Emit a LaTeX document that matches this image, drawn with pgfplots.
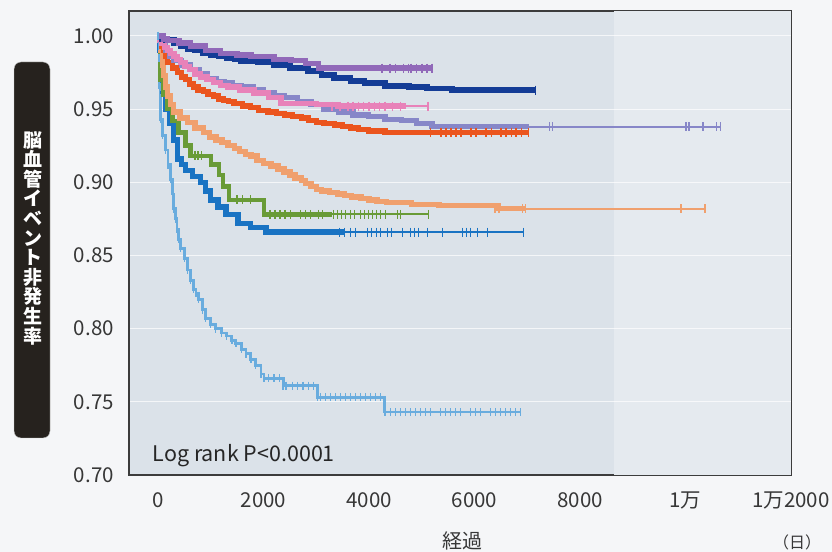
\documentclass[border=0pt]{standalone}
\usepackage{fontspec}
\setmainfont{Noto Sans CJK JP}
\usepackage{pgfplots}
\pgfplotsset{compat=1.18}
\definecolor{pagebg}{RGB}{245,246,248}
\definecolor{plotbg}{RGB}{219,226,233}
\definecolor{plotbgb}{RGB}{229,234,239}
\definecolor{labbox}{RGB}{38,34,30}
\definecolor{ticktext}{RGB}{55,55,55}
\definecolor{axisc}{RGB}{60,60,60}
\definecolor{cpurple}{RGB}{145,105,185}
\definecolor{cnavy}{RGB}{20,60,150}
\definecolor{cpink}{RGB}{232,130,185}
\definecolor{cperi}{RGB}{135,135,200}
\definecolor{cred}{RGB}{235,85,30}
\definecolor{corange}{RGB}{240,160,110}
\definecolor{cgreen}{RGB}{105,155,55}
\definecolor{cblue}{RGB}{25,115,195}
\definecolor{clb}{RGB}{105,172,222}
\pgfplotsset{
  thick/.style={const plot, line width=5.4bp},
  tail/.style={const plot, line width=2bp},
  cens/.style={only marks, mark=|, mark size=4.5bp, mark options={line width=1.5bp}},
}
\begin{document}
\begin{tikzpicture}
\path[use as bounding box, fill=pagebg] (0,0) rectangle (832bp,552bp);
\fill[rounded corners=7bp, fill=labbox, draw=gray!40] (14bp,114bp) rectangle (50bp,490bp);
\node[text=white, align=center, inner sep=0pt, font=\bfseries\fontsize{19bp}{19.6bp}\selectfont] at (33bp,314bp) {脳\\血\\管\\イ\\ベ\\ン\\ト\\非\\発\\生\\率};
\node[anchor=center, inner sep=0pt, font=\fontsize{20bp}{24bp}\selectfont, text=ticktext] at (462bp,11bp) {経過};
\node[anchor=center, inner sep=0pt, font=\fontsize{16bp}{20bp}\selectfont, text=ticktext] at (797bp,10bp) {（日）};
\begin{axis}[
  at={(129bp,77bp)}, anchor=south west, scale only axis,
  width=662bp, height=464bp,
  xmin=-550, xmax=12000, ymin=0.70, ymax=1.017,
  xtick={0,2000,4000,6000,8000,10000,12000},
  xticklabels={0,2000,4000,6000,8000,1万,1万2000},
  scaled x ticks=false, scaled y ticks=false,
  ytick={0.70,0.75,0.80,0.85,0.90,0.95,1.00},
  yticklabels={0.70,0.75,0.80,0.85,0.90,0.95,1.00},
  major tick length=0pt,
  /pgf/number format/assume math mode=true,
  tick label style={font=\fontsize{20.5bp}{24bp}\selectfont, text=ticktext},
  yticklabel style={inner sep=0pt, xshift=-15bp},
  xticklabel style={inner sep=0pt, yshift=-17bp},
  axis line style={draw=axisc, line width=1.2bp},
  axis background/.style={fill=plotbg},
  ymajorgrids, major grid style={white, line width=1bp, opacity=0.7},
]
\fill[plotbgb] (axis cs:8650,0.70) rectangle (axis cs:12000,1.017);
\foreach \yy in {0.75,0.80,0.85,0.90,0.95,1.00} {
  \edef\tmp{\noexpand\draw[white, line width=1bp, opacity=0.7] (axis cs:8650,\yy) -- (axis cs:12000,\yy);}\tmp
}

% light blue
\addplot[const plot, draw=clb, line width=2.8bp, mark=|, mark size=4bp, mark options={line width=1.4bp}] coordinates {
(0,1.000)(10,0.993)(20,0.985)(35,0.965)(48,0.943)(90,0.932)(143,0.922)(190,0.912)(238,0.902)(270,0.892)(295,0.882)(330,0.875)(360,0.868)(395,0.861)(429,0.855)(500,0.848)(560,0.840)(620,0.833)(676,0.827)(720,0.824)(772,0.820)(840,0.813)(905,0.807)(1000,0.803)(1095,0.800)(1200,0.797)(1300,0.795)(1400,0.792)(1476,0.790)(1580,0.786)(1667,0.783)(1760,0.779)(1850,0.775)(1952,0.769)(2010,0.766)(2100,0.766)(2200,0.766)(2300,0.766)(2372,0.761)(2429,0.761)(2550,0.761)(2650,0.761)(2750,0.761)(2850,0.761)(2950,0.761)(3020,0.753)
(3076,0.753)(3171,0.753)(3266,0.753)(3361,0.753)(3456,0.753)(3551,0.753)(3646,0.753)(3741,0.753)(3836,0.753)(3931,0.753)(4026,0.753)(4121,0.753)(4216,0.753)(4296,0.743)
(4311,0.743)(4406,0.743)(4501,0.743)(4596,0.743)(4691,0.743)(4786,0.743)(4881,0.743)(4976,0.743)(5070,0.743)(5165,0.743)(5355,0.743)(5450,0.743)(5545,0.743)(5640,0.743)(5735,0.743)(5925,0.743)(6020,0.743)(6115,0.743)(6305,0.743)(6400,0.743)(6495,0.743)(6590,0.743)(6685,0.743)(6780,0.743)(6874,0.743)};

% blue
\addplot[thick, draw=cblue] coordinates {
(0,1.000)(30,0.990)(60,0.975)(90,0.962)(150,0.950)(220,0.940)(295,0.929)(371,0.916)(450,0.912)(524,0.908)(650,0.904)(810,0.900)(900,0.894)(1000,0.888)(1140,0.883)(1286,0.878)(1514,0.872)(1750,0.869)(2048,0.866)(3550,0.866)};
\addplot[tail, draw=cblue] coordinates {(3550,0.866)(6931,0.866)};
\addplot[cens, draw=cblue] coordinates {
(3437,0.866)(3532,0.866)(3646,0.866)(3741,0.866)(3969,0.866)(4045,0.866)(4140,0.866)(4216,0.866)(4349,0.866)(4425,0.866)(4634,0.866)(4786,0.866)(4862,0.866)(4938,0.866)(5108,0.866)(5393,0.866)(5773,0.866)(5849,0.866)(5925,0.866)(6058,0.866)(6248,0.866)(6931,0.866)};

% green
\addplot[thick, draw=cgreen, line width=4.4bp] coordinates {
(0,1.000)(48,0.970)(100,0.960)(181,0.950)(276,0.942)(390,0.934)(524,0.925)(619,0.918)(905,0.918)(1000,0.912)(1152,0.905)(1229,0.897)(1343,0.888)(2010,0.878)(3300,0.878)};
\addplot[tail, draw=cgreen] coordinates {(3300,0.878)(5127,0.878)};
\addplot[cens, draw=cgreen] coordinates {
(700,0.918)(760,0.918)(820,0.918)(1500,0.888)(1600,0.888)(1750,0.888)(2127,0.878)(2222,0.878)(2317,0.878)(2412,0.878)(2507,0.878)(2697,0.878)(2792,0.878)(2887,0.878)(3038,0.878)(3114,0.878)(3323,0.878)(3399,0.878)(3475,0.878)(3551,0.878)(3646,0.878)(3722,0.878)(3836,0.878)(3912,0.878)(3988,0.878)(4064,0.878)(4140,0.878)(4216,0.878)(4311,0.878)(4539,0.878)(4596,0.878)(5127,0.878)};

% light orange
\addplot[thick, draw=corange] coordinates {
(0,1.000)(48,0.990)(80,0.980)(105,0.973)(140,0.965)(181,0.959)(240,0.953)(295,0.948)(420,0.944)(562,0.941)(700,0.937)(867,0.934)(980,0.931)(1100,0.929)(1210,0.927)(1324,0.925)(1450,0.923)(1550,0.921)(1660,0.919)(1762,0.918)(1880,0.915)(2000,0.913)(2140,0.911)(2276,0.909)(2390,0.907)(2500,0.905)(2600,0.903)(2715,0.901)(2800,0.899)(2900,0.897)(3000,0.895)(3096,0.894)(3250,0.893)(3400,0.892)(3530,0.891)(3667,0.890)(3850,0.889)(4000,0.888)(4150,0.887)(4334,0.886)(4800,0.885)(5325,0.884)(6450,0.882)(6963,0.882)};
\addplot[tail, draw=corange] coordinates {(6963,0.882)(10373,0.882)};
\addplot[cens, draw=corange] coordinates {
(6391,0.882)(6467,0.882)(6906,0.882)(6963,0.882)(9915,0.882)(10373,0.882)};

% red-orange
\addplot[thick, draw=cred] coordinates {
(0,1.000)(25,0.997)(50,0.995)(75,0.993)(105,0.990)(140,0.986)(181,0.982)(270,0.978)(371,0.975)(440,0.972)(520,0.970)(600,0.967)(676,0.965)(760,0.963)(860,0.962)(950,0.960)(1057,0.959)(1150,0.957)(1240,0.956)(1340,0.955)(1438,0.954)(1600,0.952)(1750,0.951)(1900,0.949)(2086,0.948)(2250,0.947)(2400,0.946)(2550,0.945)(2715,0.944)(2850,0.942)(3000,0.941)(3150,0.940)(3343,0.939)(3500,0.938)(3650,0.937)(3800,0.936)(3990,0.935)(4300,0.934)(7039,0.934)};
\addplot[cens, draw=cred] coordinates {
(5170,0.934)(5360,0.934)(5460,0.934)(5550,0.934)(5650,0.934)(5740,0.934)(5930,0.934)(6030,0.934)(6220,0.934)(6320,0.934)(6500,0.934)(6600,0.934)(6700,0.934)(6790,0.934)(6890,0.934)(7020,0.934)};

% periwinkle
\addplot[thick, draw=cperi] coordinates {
(0,1.000)(60,0.995)(143,0.990)(220,0.986)(295,0.983)(450,0.980)(619,0.977)(780,0.974)(943,0.971)(1100,0.969)(1250,0.968)(1400,0.966)(1571,0.965)(1800,0.963)(2000,0.961)(2200,0.959)(2391,0.958)(2650,0.955)(2900,0.953)(3150,0.950)(3419,0.948)(3700,0.946)(3990,0.945)(4300,0.943)(4620,0.942)(4900,0.940)(5191,0.938)(7039,0.938)};
\addplot[tail, draw=cperi] coordinates {(7039,0.938)(10659,0.938)};
\addplot[cens, draw=cperi] coordinates {
(7420,0.938)(7477,0.938)(10010,0.938)(10070,0.938)(10335,0.938)(10583,0.938)(10659,0.938)};

% pink
\addplot[thick, draw=cpink] coordinates {
(0,1.000)(30,0.997)(60,0.995)(120,0.992)(181,0.990)(240,0.988)(300,0.986)(360,0.984)(429,0.982)(510,0.979)(600,0.977)(700,0.974)(810,0.972)(930,0.970)(1050,0.968)(1180,0.966)(1324,0.965)(1550,0.963)(1819,0.961)(2100,0.958)(2333,0.954)(3000,0.953)(3400,0.952)(4700,0.952)};
\addplot[tail, draw=cpink] coordinates {(4700,0.952)(5120,0.952)};
\addplot[cens, draw=cpink] coordinates {
(3300,0.952)(3450,0.952)(3600,0.952)(3700,0.952)(3800,0.952)(3900,0.952)(4000,0.952)(4100,0.952)(4200,0.952)(4300,0.952)(4450,0.952)(4600,0.952)(5120,0.952)};

% navy
\addplot[thick, draw=cnavy, line width=5.8bp] coordinates {
(0,1.000)(80,0.998)(150,0.997)(300,0.995)(429,0.993)(560,0.991)(700,0.990)(850,0.988)(1000,0.987)(1150,0.986)(1300,0.985)(1450,0.984)(1571,0.983)(1900,0.982)(2200,0.980)(2500,0.978)(2848,0.976)(3100,0.973)(3343,0.971)(3650,0.969)(3914,0.968)(4300,0.966)(4753,0.965)(5100,0.964)(5572,0.963)(7153,0.963)};
\addplot[cens, draw=cnavy] coordinates {(7153,0.963)};

% purple
\addplot[thick, draw=cpurple] coordinates {
(0,1.000)(100,0.998)(181,0.997)(400,0.995)(619,0.993)(900,0.990)(1190,0.988)(1500,0.987)(1762,0.986)(2200,0.984)(2524,0.983)(2800,0.981)(3038,0.978)(5191,0.978)};
\addplot[cens, draw=cpurple] coordinates {
(4250,0.978)(4400,0.978)(4500,0.978)(4650,0.978)(4750,0.978)(4800,0.978)(4900,0.978)(5000,0.978)(5100,0.978)(5191,0.978)};

\node[anchor=base west, inner sep=0pt, font=\fontsize{21.5bp}{26bp}\selectfont, text=black!85] at (axis cs:-105,0.7095) {Log rank P<0.0001};
\end{axis}
\end{tikzpicture}
\end{document}
